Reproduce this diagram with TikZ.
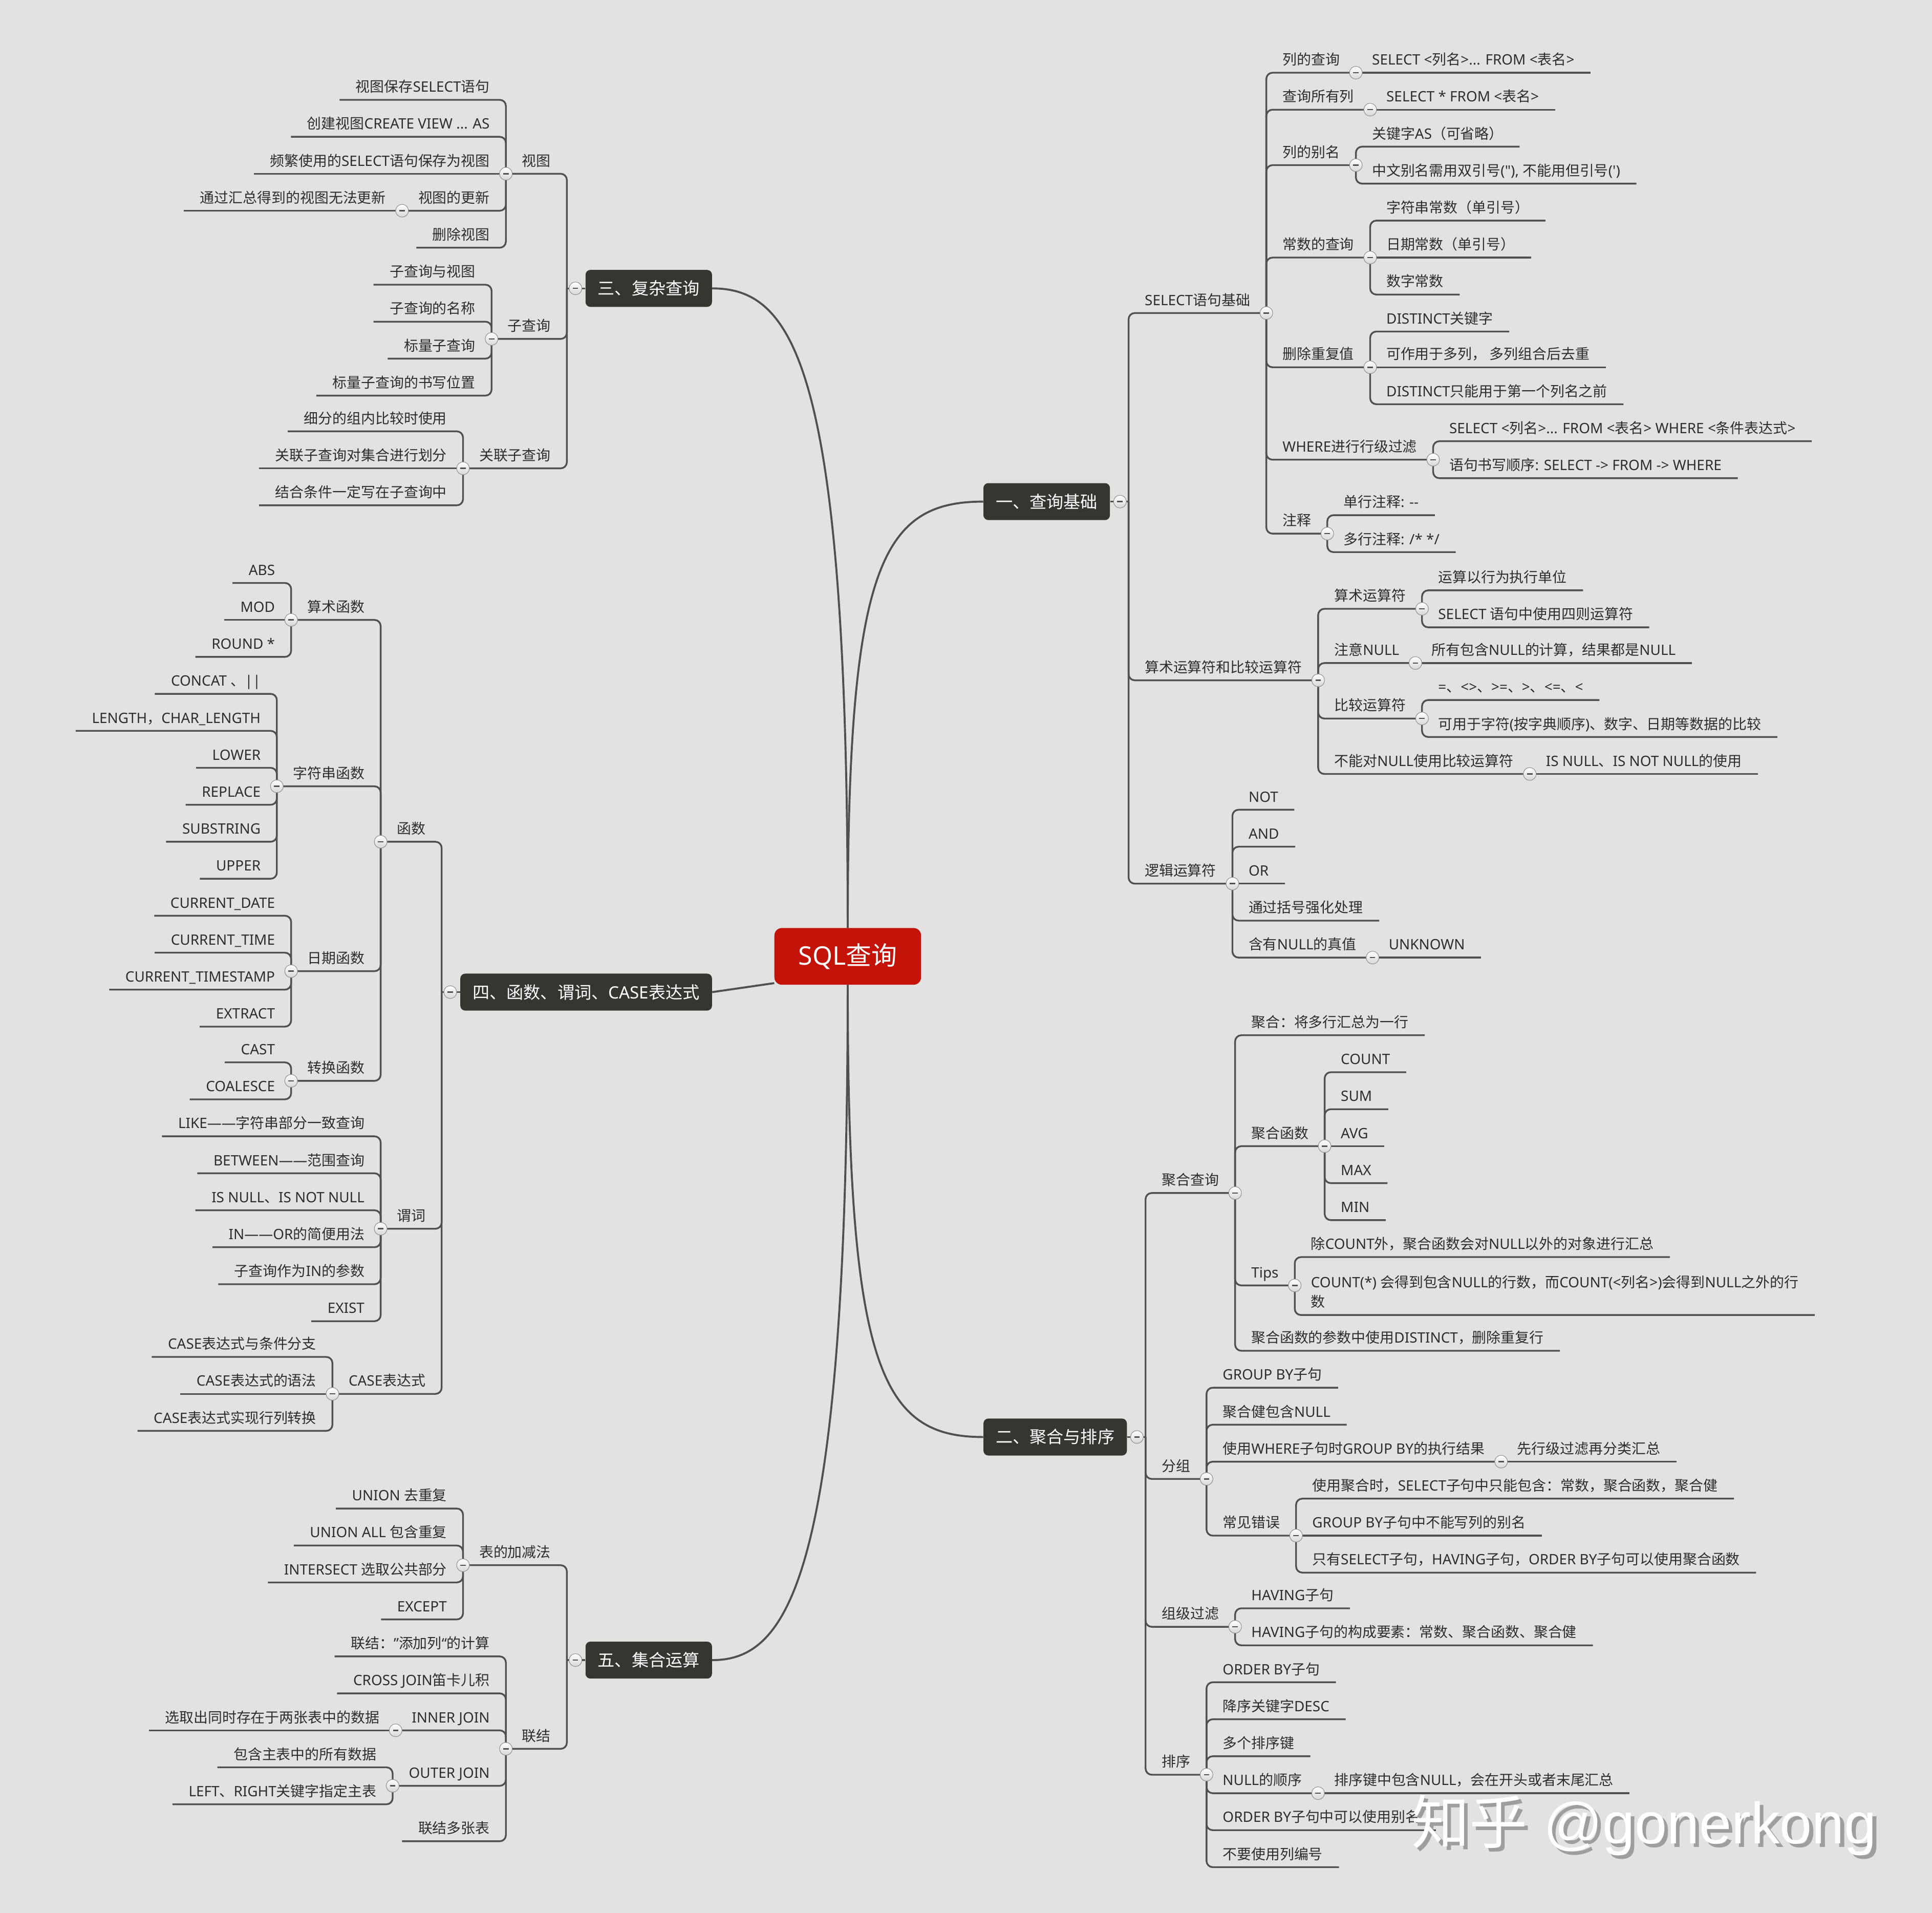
\documentclass[tikz,border=0pt]{standalone}
\usepackage{fontspec}
\newfontfamily\zhfont{Noto Sans CJK SC}
\newfontfamily\enfont{Noto Sans}
\newfontfamily\wmfont{Liberation Sans}
\newcount\hancode
\def\hanrange#1#2{\hancode=#1\relax\loop\XeTeXcharclass\hancode=1\relax\advance\hancode by 1\relax\ifnum\hancode<#2\repeat}
\hanrange{"3000}{"3040}
\hanrange{"4E00}{"A000}
\hanrange{"FF00}{"FFF0}
\XeTeXinterchartoks 0 1 = {\zhfont}
\XeTeXinterchartoks 4095 1 = {\zhfont}
\XeTeXinterchartoks 1 0 = {\enfont}
\XeTeXinterchartokenstate=1
\definecolor{paper}{RGB}{226,226,226}
\definecolor{ink}{RGB}{45,45,45}
\definecolor{wire}{RGB}{80,80,80}
\definecolor{rootred}{RGB}{196,20,10}
\definecolor{topicgray}{RGB}{54,54,49}
\tikzset{knob/.pic={
  \draw[top color=white,bottom color=black!16,draw=black!45,line width=0.6pt] (0,0) circle (2.6mm);
  \draw[wire,line width=1.5pt] (-1.1mm,0) -- (1.1mm,0);}}

\begin{document}
\begin{tikzpicture}[x=0.5mm,y=-0.5mm,
  every node/.style={font=\enfont\fontsize{16.5}{20}\selectfont,text=ink},
  rootbox/.style={fill=rootred,rounded corners=3mm,minimum width=59.5mm,minimum height=23mm,text=white,font=\enfont\fontsize{29.5}{34}\selectfont},
  topic/.style={fill=topicgray,rounded corners=2mm,minimum height=15mm,inner xsep=5mm,text=white,font=\enfont\fontsize{19.6}{23}\selectfont},
  rleaf/.style={anchor=south west,inner xsep=6.5mm,inner ysep=2.4mm,text depth=0.2em},
  lleaf/.style={rleaf,anchor=south east},
  link/.style={draw=wire,line width=2pt,rounded corners=2.5mm},
  trunk/.style={draw=wire,line width=2.3pt}]
  \path[use as bounding box,fill=paper] (0,0) rectangle (1568,1552);
  \node[rootbox] (root) at (688,776) {SQL查询};
  \node[topic,anchor=west] (t1) at (798,407) {一、查询基础};
  \node[topic,anchor=west] (t2) at (798,1166) {二、聚合与排序};
  \node[topic,anchor=east] (t3) at (578,234) {三、复杂查询};
  \node[topic,anchor=east] (t4) at (578,805) {四、函数、谓词、CASE表达式};
  \node[topic,anchor=east] (t5) at (578,1347) {五、集合运算};
  \path (t1.east) ++(15,0) coordinate (s1);
  \path (t2.east) ++(15,0) coordinate (s2);
  \path (t3.west) ++(-15,0) coordinate (s3);
  \path (t4.west) ++(-15,0) coordinate (s4);
  \path (t5.west) ++(-15,0) coordinate (s5);

  \node[rleaf] (q1) at (s1 |- 0,254) {SELECT语句基础};
  \node[rleaf] (q2) at (s1 |- 0,552) {算术运算符和比较运算符};
  \node[rleaf] (q3) at (s1 |- 0,717) {逻辑运算符};
  \node[rleaf] (q1a) at (q1.south east |- 0,59) {列的查询};
  \node[rleaf] (q1b) at (q1.south east |- 0,89) {查询所有列};
  \node[rleaf] (q1c) at (q1.south east |- 0,134) {列的别名};
  \node[rleaf] (q1d) at (q1.south east |- 0,209) {常数的查询};
  \node[rleaf] (q1e) at (q1.south east |- 0,298) {删除重复值};
  \node[rleaf] (q1f) at (q1.south east |- 0,373) {WHERE进行行级过滤};
  \node[rleaf] (q1g) at (q1.south east |- 0,433) {注释};
  \node[rleaf] (q1a1) at (q1a.south east) {SELECT <列名>... FROM <表名>};
  \node[rleaf] (q1b1) at (q1b.south east) {SELECT * FROM <表名>};
  \node[rleaf] (q1c1) at (q1c.south east |- 0,119) {关键字AS（可省略）};
  \node[rleaf] (q1c2) at (q1c.south east |- 0,149) {中文别名需用双引号("), 不能用但引号(')};
  \node[rleaf] (q1d1) at (q1d.south east |- 0,179) {字符串常数（单引号）};
  \node[rleaf] (q1d2) at (q1d.south east) {日期常数（单引号）};
  \node[rleaf] (q1d3) at (q1d.south east |- 0,239) {数字常数};
  \node[rleaf] (q1e1) at (q1e.south east |- 0,269) {DISTINCT关键字};
  \node[rleaf] (q1e2) at (q1e.south east) {可作用于多列， 多列组合后去重};
  \node[rleaf] (q1e3) at (q1e.south east |- 0,328) {DISTINCT只能用于第一个列名之前};
  \node[rleaf] (q1f1) at (q1f.south east |- 0,358) {SELECT <列名>... FROM <表名> WHERE <条件表达式>};
  \node[rleaf] (q1f2) at (q1f.south east |- 0,388) {语句书写顺序: SELECT -> FROM -> WHERE};
  \node[rleaf] (q1g1) at (q1g.south east |- 0,418) {单行注释: --};
  \node[rleaf] (q1g2) at (q1g.south east |- 0,448) {多行注释: /* */};
  \node[rleaf] (q2a) at (q2.south east |- 0,494) {算术运算符};
  \node[rleaf] (q2b) at (q2.south east |- 0,538) {注意NULL};
  \node[rleaf] (q2c) at (q2.south east |- 0,583) {比较运算符};
  \node[rleaf] (q2d) at (q2.south east |- 0,628) {不能对NULL使用比较运算符};
  \node[rleaf] (q2a1) at (q2a.south east |- 0,479) {运算以行为执行单位};
  \node[rleaf] (q2a2) at (q2a.south east |- 0,509) {SELECT 语句中使用四则运算符};
  \node[rleaf] (q2b1) at (q2b.south east) {所有包含NULL的计算，结果都是NULL};
  \node[rleaf] (q2c1) at (q2c.south east |- 0,568) {=、<>、>=、>、<=、<};
  \node[rleaf] (q2c2) at (q2c.south east |- 0,598) {可用于字符(按字典顺序)、数字、日期等数据的比较};
  \node[rleaf] (q2d1) at (q2d.south east) {IS NULL、IS NOT NULL的使用};
  \node[rleaf] (q3a) at (q3.south east |- 0,657) {NOT};
  \node[rleaf] (q3b) at (q3.south east |- 0,687) {AND};
  \node[rleaf] (q3c) at (q3.south east) {OR};
  \node[rleaf] (q3d) at (q3.south east |- 0,747) {通过括号强化处理};
  \node[rleaf] (q3e) at (q3.south east |- 0,777) {含有NULL的真值};
  \node[rleaf] (q3e1) at (q3e.south east) {UNKNOWN};

  \node[rleaf] (g1) at (s2 |- 0,968) {聚合查询};
  \node[rleaf] (g2) at (s2 |- 0,1200) {分组};
  \node[rleaf] (g3) at (s2 |- 0,1320) {组级过滤};
  \node[rleaf] (g4) at (s2 |- 0,1440) {排序};
  \node[rleaf] (g1a) at (g1.south east |- 0,840) {聚合：将多行汇总为一行};
  \node[rleaf] (g1b) at (g1.south east |- 0,930) {聚合函数};
  \node[rleaf] (g1c) at (g1.south east |- 0,1043) {Tips};
  \node[rleaf] (g1d) at (g1.south east |- 0,1096) {聚合函数的参数中使用DISTINCT，删除重复行};
  \node[rleaf] (g1b1) at (g1b.south east |- 0,870) {COUNT};
  \node[rleaf] (g1b2) at (g1b.south east |- 0,900) {SUM};
  \node[rleaf] (g1b3) at (g1b.south east) {AVG};
  \node[rleaf] (g1b4) at (g1b.south east |- 0,960) {MAX};
  \node[rleaf] (g1b5) at (g1b.south east |- 0,990) {MIN};
  \node[rleaf] (g1c1) at (g1c.south east |- 0,1020) {除COUNT外，聚合函数会对NULL以外的对象进行汇总};
  \node[rleaf,align=left,font=\enfont\fontsize{16.5}{22.8}\selectfont] (g1c2) at (g1c.south east |- 0,1067) {COUNT(*) 会得到包含NULL的行数，而COUNT(<列名>)会得到NULL之外的行\\数};
  \node[rleaf] (g2a) at (g2.south east |- 0,1126) {GROUP BY子句};
  \node[rleaf] (g2b) at (g2.south east |- 0,1156) {聚合健包含NULL};
  \node[rleaf] (g2c) at (g2.south east |- 0,1186) {使用WHERE子句时GROUP BY的执行结果};
  \node[rleaf] (g2d) at (g2.south east |- 0,1246) {常见错误};
  \node[rleaf] (g2c1) at (g2c.south east) {先行级过滤再分类汇总};
  \node[rleaf] (g2d1) at (g2d.south east |- 0,1216) {使用聚合时，SELECT子句中只能包含：常数，聚合函数，聚合健};
  \node[rleaf] (g2d2) at (g2d.south east) {GROUP BY子句中不能写列的别名};
  \node[rleaf] (g2d3) at (g2d.south east |- 0,1276) {只有SELECT子句，HAVING子句，ORDER BY子句可以使用聚合函数};
  \node[rleaf] (g3a) at (g3.south east |- 0,1305) {HAVING子句};
  \node[rleaf] (g3b) at (g3.south east |- 0,1335) {HAVING子句的构成要素：常数、聚合函数、聚合健};
  \node[rleaf] (g4a) at (g4.south east |- 0,1365) {ORDER BY子句};
  \node[rleaf] (g4b) at (g4.south east |- 0,1395) {降序关键字DESC};
  \node[rleaf] (g4c) at (g4.south east |- 0,1425) {多个排序键};
  \node[rleaf] (g4d) at (g4.south east |- 0,1455) {NULL的顺序};
  \node[rleaf] (g4e) at (g4.south east |- 0,1485) {ORDER BY子句中可以使用别名};
  \node[rleaf] (g4f) at (g4.south east |- 0,1515) {不要使用列编号};
  \node[rleaf] (g4d1) at (g4d.south east) {排序键中包含NULL，会在开头或者末尾汇总};

  \node[lleaf] (c1) at (s3 |- 0,141) {视图};
  \node[lleaf] (c2) at (s3 |- 0,275) {子查询};
  \node[lleaf] (c3) at (s3 |- 0,380) {关联子查询};
  \node[lleaf] (c1a) at (c1.south west |- 0,81) {视图保存SELECT语句};
  \node[lleaf] (c1b) at (c1.south west |- 0,111) {创建视图CREATE VIEW ... AS};
  \node[lleaf] (c1c) at (c1.south west) {频繁使用的SELECT语句保存为视图};
  \node[lleaf] (c1d) at (c1.south west |- 0,171) {视图的更新};
  \node[lleaf] (c1e) at (c1.south west |- 0,201) {删除视图};
  \node[lleaf] (c1d1) at (c1d.south west) {通过汇总得到的视图无法更新};
  \node[lleaf] (c2a) at (c2.south west |- 0,231) {子查询与视图};
  \node[lleaf] (c2b) at (c2.south west |- 0,261) {子查询的名称};
  \node[lleaf] (c2c) at (c2.south west |- 0,291) {标量子查询};
  \node[lleaf] (c2d) at (c2.south west |- 0,321) {标量子查询的书写位置};
  \node[lleaf] (c3a) at (c3.south west |- 0,350) {细分的组内比较时使用};
  \node[lleaf] (c3b) at (c3.south west) {关联子查询对集合进行划分};
  \node[lleaf] (c3c) at (c3.south west |- 0,410) {结合条件一定写在子查询中};

  \node[lleaf] (d1) at (s4 |- 0,683) {函数};
  \node[lleaf] (d2) at (s4 |- 0,997) {谓词};
  \node[lleaf] (d3) at (s4 |- 0,1131) {CASE表达式};
  \node[lleaf] (d1a) at (d1.south west |- 0,503) {算术函数};
  \node[lleaf] (d1b) at (d1.south west |- 0,638) {字符串函数};
  \node[lleaf] (d1c) at (d1.south west |- 0,788) {日期函数};
  \node[lleaf] (d1d) at (d1.south west |- 0,877) {转换函数};
  \node[lleaf] (d1a1) at (d1a.south west |- 0,473) {ABS};
  \node[lleaf] (d1a2) at (d1a.south west) {MOD};
  \node[lleaf] (d1a3) at (d1a.south west |- 0,533) {ROUND *};
  \node[lleaf] (d1b1) at (d1b.south west |- 0,563) {CONCAT 、||};
  \node[lleaf] (d1b2) at (d1b.south west |- 0,593) {LENGTH，CHAR\_LENGTH};
  \node[lleaf] (d1b3) at (d1b.south west |- 0,623) {LOWER};
  \node[lleaf] (d1b4) at (d1b.south west |- 0,653) {REPLACE};
  \node[lleaf] (d1b5) at (d1b.south west |- 0,683) {SUBSTRING};
  \node[lleaf] (d1b6) at (d1b.south west |- 0,713) {UPPER};
  \node[lleaf] (d1c1) at (d1c.south west |- 0,743) {CURRENT\_DATE};
  \node[lleaf] (d1c2) at (d1c.south west |- 0,773) {CURRENT\_TIME};
  \node[lleaf] (d1c3) at (d1c.south west |- 0,803) {CURRENT\_TIMESTAMP};
  \node[lleaf] (d1c4) at (d1c.south west |- 0,833) {EXTRACT};
  \node[lleaf] (d1d1) at (d1d.south west |- 0,862) {CAST};
  \node[lleaf] (d1d2) at (d1d.south west |- 0,892) {COALESCE};
  \node[lleaf] (d2a) at (d2.south west |- 0,922) {LIKE——字符串部分一致查询};
  \node[lleaf] (d2b) at (d2.south west |- 0,952) {BETWEEN——范围查询};
  \node[lleaf] (d2c) at (d2.south west |- 0,982) {IS NULL、IS NOT NULL};
  \node[lleaf] (d2d) at (d2.south west |- 0,1012) {IN——OR的简便用法};
  \node[lleaf] (d2e) at (d2.south west |- 0,1042) {子查询作为IN的参数};
  \node[lleaf] (d2f) at (d2.south west |- 0,1072) {EXIST};
  \node[lleaf] (d3a) at (d3.south west |- 0,1101) {CASE表达式与条件分支};
  \node[lleaf] (d3b) at (d3.south west) {CASE表达式的语法};
  \node[lleaf] (d3c) at (d3.south west |- 0,1161) {CASE表达式实现行列转换};

  \node[lleaf] (e1) at (s5 |- 0,1270) {表的加减法};
  \node[lleaf] (e2) at (s5 |- 0,1419) {联结};
  \node[lleaf] (e1a) at (e1.south west |- 0,1224) {UNION 去重复};
  \node[lleaf] (e1b) at (e1.south west |- 0,1254) {UNION ALL 包含重复};
  \node[lleaf] (e1c) at (e1.south west |- 0,1284) {INTERSECT 选取公共部分};
  \node[lleaf] (e1d) at (e1.south west |- 0,1314) {EXCEPT};
  \node[lleaf] (e2a) at (e2.south west |- 0,1344) {联结：”添加列“的计算};
  \node[lleaf] (e2b) at (e2.south west |- 0,1374) {CROSS JOIN笛卡儿积};
  \node[lleaf] (e2c) at (e2.south west |- 0,1404) {INNER JOIN};
  \node[lleaf] (e2d) at (e2.south west |- 0,1449) {OUTER JOIN};
  \node[lleaf] (e2e) at (e2.south west |- 0,1494) {联结多张表};
  \node[lleaf] (e2c1) at (e2c.south west) {选取出同时存在于两张表中的数据};
  \node[lleaf] (e2d1) at (e2d.south west |- 0,1434) {包含主表中的所有数据};
  \node[lleaf] (e2d2) at (e2d.south west |- 0,1464) {LEFT、RIGHT关键字指定主表};

  \draw[trunk] (root.north) .. controls (688,460) and (715,407) .. (t1.west);
  \draw[trunk] (root.north) .. controls (688,300) and (645,234) .. (t3.east);
  \draw[trunk] (root.south) .. controls (688,1110) and (715,1166) .. (t2.west);
  \draw[trunk] (root.south) .. controls (688,1280) and (640,1347) .. (t5.east);
  \draw[trunk] (root.200) -- (t4.east);

  \draw[link] (t1.east) -- (s1);
  \foreach \ch in {q1,q2,q3} \draw[link] (s1) |- (\ch.south east);
  \foreach \ch in {q1a,q1b,q1c,q1d,q1e,q1f,q1g} \draw[link] (q1.south east) |- (\ch.south east);
  \foreach \ch in {q1c1,q1c2} \draw[link] (q1c.south east) |- (\ch.south east);
  \foreach \ch in {q1d1,q1d3} \draw[link] (q1d.south east) |- (\ch.south east);
  \foreach \ch in {q1e1,q1e3} \draw[link] (q1e.south east) |- (\ch.south east);
  \foreach \ch in {q1f1,q1f2} \draw[link] (q1f.south east) |- (\ch.south east);
  \foreach \ch in {q1g1,q1g2} \draw[link] (q1g.south east) |- (\ch.south east);
  \foreach \ch in {q2a,q2b,q2c,q2d} \draw[link] (q2.south east) |- (\ch.south east);
  \foreach \ch in {q2a1,q2a2} \draw[link] (q2a.south east) |- (\ch.south east);
  \foreach \ch in {q2c1,q2c2} \draw[link] (q2c.south east) |- (\ch.south east);
  \foreach \ch in {q3a,q3b,q3d,q3e} \draw[link] (q3.south east) |- (\ch.south east);
  \foreach \ch in {q1a1,q1b1,q1d2,q1e2,q2b1,q2d1,q3c,q3e1} \draw[link] (\ch.south west) -- (\ch.south east);

  \draw[link] (t2.east) -- (s2);
  \foreach \ch in {g1,g2,g3,g4} \draw[link] (s2) |- (\ch.south east);
  \foreach \ch in {g1a,g1b,g1c,g1d} \draw[link] (g1.south east) |- (\ch.south east);
  \foreach \ch in {g1b1,g1b2,g1b4,g1b5} \draw[link] (g1b.south east) |- (\ch.south east);
  \foreach \ch in {g1c1,g1c2} \draw[link] (g1c.south east) |- (\ch.south east);
  \foreach \ch in {g2a,g2b,g2c,g2d} \draw[link] (g2.south east) |- (\ch.south east);
  \foreach \ch in {g2d1,g2d3} \draw[link] (g2d.south east) |- (\ch.south east);
  \foreach \ch in {g3a,g3b} \draw[link] (g3.south east) |- (\ch.south east);
  \foreach \ch in {g4a,g4b,g4c,g4d,g4e,g4f} \draw[link] (g4.south east) |- (\ch.south east);
  \foreach \ch in {g1b3,g2c1,g2d2,g4d1} \draw[link] (\ch.south west) -- (\ch.south east);

  \draw[link] (t3.west) -- (s3);
  \foreach \ch in {c1,c2,c3} \draw[link] (s3) |- (\ch.south west);
  \foreach \ch in {c1a,c1b,c1d,c1e} \draw[link] (c1.south west) |- (\ch.south west);
  \foreach \ch in {c2a,c2b,c2c,c2d} \draw[link] (c2.south west) |- (\ch.south west);
  \foreach \ch in {c3a,c3c} \draw[link] (c3.south west) |- (\ch.south west);
  \foreach \ch in {c1c,c1d1,c3b} \draw[link] (\ch.south east) -- (\ch.south west);

  \draw[link] (t4.west) -- (s4);
  \foreach \ch in {d1,d2,d3} \draw[link] (s4) |- (\ch.south west);
  \foreach \ch in {d1a,d1b,d1c,d1d} \draw[link] (d1.south west) |- (\ch.south west);
  \foreach \ch in {d1a1,d1a3} \draw[link] (d1a.south west) |- (\ch.south west);
  \foreach \ch in {d1b1,d1b2,d1b3,d1b4,d1b5,d1b6} \draw[link] (d1b.south west) |- (\ch.south west);
  \foreach \ch in {d1c1,d1c2,d1c3,d1c4} \draw[link] (d1c.south west) |- (\ch.south west);
  \foreach \ch in {d1d1,d1d2} \draw[link] (d1d.south west) |- (\ch.south west);
  \foreach \ch in {d2a,d2b,d2c,d2d,d2e,d2f} \draw[link] (d2.south west) |- (\ch.south west);
  \foreach \ch in {d3a,d3c} \draw[link] (d3.south west) |- (\ch.south west);
  \foreach \ch in {d1a2,d3b} \draw[link] (\ch.south east) -- (\ch.south west);

  \draw[link] (t5.west) -- (s5);
  \foreach \ch in {e1,e2} \draw[link] (s5) |- (\ch.south west);
  \foreach \ch in {e1a,e1b,e1c,e1d} \draw[link] (e1.south west) |- (\ch.south west);
  \foreach \ch in {e2a,e2b,e2c,e2d,e2e} \draw[link] (e2.south west) |- (\ch.south west);
  \foreach \ch in {e2d1,e2d2} \draw[link] (e2d.south west) |- (\ch.south west);
  \draw[link] (e2c1.south east) -- (e2c1.south west);

  \path (t1.east) ++(8,0) pic {knob};
  \path (t2.east) ++(8,0) pic {knob};
  \path (t3.west) ++(-8,0) pic {knob};
  \path (t4.west) ++(-8,0) pic {knob};
  \path (t5.west) ++(-8,0) pic {knob};
  \foreach \p in {q1,q2,q3,q1a,q1b,q1c,q1d,q1e,q1f,q1g,q2a,q2b,q2c,q2d,q3e,g1,g2,g3,g4,g1b,g1c,g2c,g2d,g4d} \path (\p.south east) pic {knob};
  \foreach \p in {c1,c2,c3,c1d,d1,d2,d3,d1a,d1b,d1c,d1d,e1,e2,e2c,e2d} \path (\p.south west) pic {knob};

  \node[anchor=base west,font=\wmfont\fontsize{67}{72}\selectfont,text=black!38] (wmshadow) at (1146,1499) {{\zhfont 知乎} @gonerkong};
  \node[anchor=base west,font=\wmfont\fontsize{67}{72}\selectfont,text=white] (wm) at (1143,1496) {{\zhfont 知乎} @gonerkong};
\end{tikzpicture}
\end{document}
